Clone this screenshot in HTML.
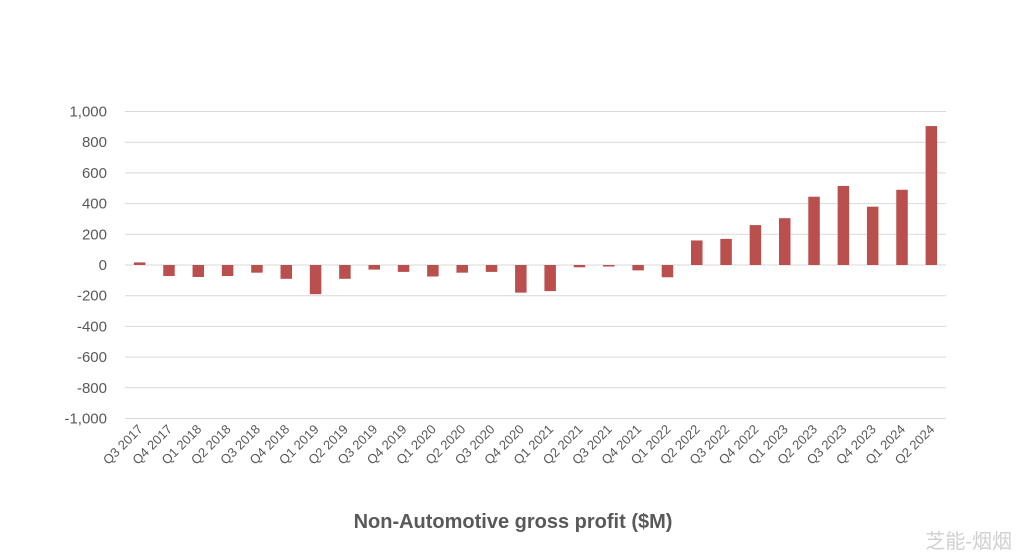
<!DOCTYPE html>
<html><head><meta charset="utf-8"><style>
html,body{margin:0;padding:0;background:#fff;}
svg text{font-family:"Liberation Sans","Noto Sans CJK SC",sans-serif;}
</style></head><body>
<svg id="chart" width="1024" height="555" viewBox="0 0 1024 555" xmlns="http://www.w3.org/2000/svg">
<g id="grid"></g><g id="ylab"></g><g id="bars"></g><g id="xlab"></g>
<text x="513" y="528" text-anchor="middle" font-size="20" font-weight="bold" fill="#595959">Non-Automotive gross profit ($M)</text>
<text x="1012" y="548" text-anchor="end" font-size="20" fill="#d0d0d0">芝能-烟烟</text>
</svg>
<script>
const categories=["Q3 2017","Q4 2017","Q1 2018","Q2 2018","Q3 2018","Q4 2018","Q1 2019","Q2 2019","Q3 2019","Q4 2019","Q1 2020","Q2 2020","Q3 2020","Q4 2020","Q1 2021","Q2 2021","Q3 2021","Q4 2021","Q1 2022","Q2 2022","Q3 2022","Q4 2022","Q1 2023","Q2 2023","Q3 2023","Q4 2023","Q1 2024","Q2 2024"];
const values=[17,-72,-78,-72,-50,-90,-190,-90,-30,-45,-75,-50,-45,-180,-170,-15,-10,-35,-80,160,170,260,305,445,515,380,490,905];
const yTicks=[1000,800,600,400,200,0,-200,-400,-600,-800,-1000];
const yTickLabels=["1,000","800","600","400","200","0","-200","-400","-600","-800","-1,000"];
const NS="http://www.w3.org/2000/svg";
const left=125,right=946,y0=265,pxPer=0.1535;
const y=v=>y0-v*pxPer;
const step=(right-left)/categories.length;
const x=i=>left+step*(i+0.5);
function mk(t,a,p){const e=document.createElementNS(NS,t);for(const k in a)e.setAttribute(k,a[k]);p.appendChild(e);return e;}
const grid=document.getElementById('grid'),ylab=document.getElementById('ylab'),bars=document.getElementById('bars'),xlab=document.getElementById('xlab');
yTicks.forEach((v,i)=>{
 const l=mk('line',{x1:left,x2:right,y1:y(v),y2:y(v),stroke:'#d9d9d9','stroke-width':1},grid);
 
 
 const t=mk('text',{x:107,y:y(v)+5,'text-anchor':'end','font-size':15,fill:'#595959'},ylab);
 t.textContent=yTickLabels[i];
 
 
});
values.forEach((v,i)=>{
 const w=11.5,top=Math.min(y(v),y0),h=Math.abs(y(v)-y0);
 const r=mk('rect',{x:x(i)-w/2,y:top,width:w,height:Math.max(h,1),fill:'#b9504d'},bars);
 
 
});
categories.forEach((c,i)=>{
 const tx=x(i)+4,ty=430;
 const t=mk('text',{x:tx,y:ty,'text-anchor':'end','font-size':13,fill:'#595959',transform:`rotate(-45 ${tx} ${ty})`},xlab);
 t.textContent=c;
 
 
});
</script>
</body></html>
